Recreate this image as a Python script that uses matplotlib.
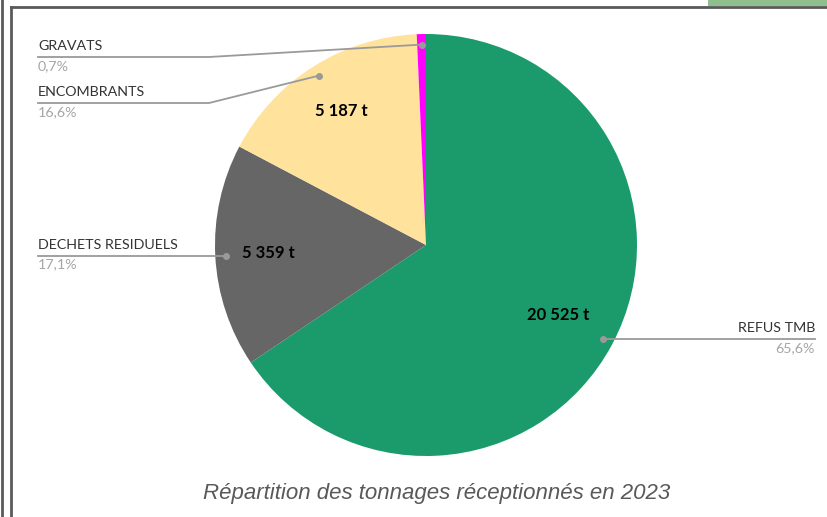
import numpy as np
import matplotlib.pyplot as plt
from matplotlib.patches import Rectangle

# Data
categories = ["REFUS TMB", "DECHETS RESIDUELS", "ENCOMBRANTS", "GRAVATS"]
tonnages = [20525, 5359, 5187, 219]
value_labels = ["20 525 t", "5 359 t", "5 187 t", ""]
pct_labels = ["65,6%", "17,1%", "16,6%", "0,7%"]
colors = ["#1B9B6C", "#666666", "#FFE29B", "#FF00FF"]
title = "Répartition des tonnages réceptionnés en 2023"

W, H = 827, 517
fig = plt.figure(figsize=(W / 100, H / 100), dpi=100)
ax = fig.add_axes([0, 0, 1, 1])

# pie (pixel coordinates, y measured from bottom)
cx, cy, R = 426, H - 245, 211
wedges, _ = ax.pie(tonnages, colors=colors, startangle=90, counterclock=False,
                   center=(cx, cy), radius=R, frame=True,
                   wedgeprops=dict(linewidth=0))
ax.set_xlim(0, W)
ax.set_ylim(0, H)
ax.set_aspect("equal")
ax.axis("off")

label_font = ["Lato", "DejaVu Sans"]
line_col = "#9A9A9A"
# elbow / text layout for each label: (side, elbow_y_px)
layout = {
    "REFUS TMB": ("right", None),
    "DECHETS RESIDUELS": ("left", None),
    "ENCOMBRANTS": ("left", 103),
    "GRAVATS": ("left", 57),
}

for w, cat, val, pct in zip(wedges, categories, value_labels, pct_labels):
    mid = np.deg2rad((w.theta1 + w.theta2) / 2)
    # value label inside
    if val:
        rr = 0.71 * R if cat == "REFUS TMB" else 0.75 * R
        ax.text(cx + rr * np.cos(mid), cy + rr * np.sin(mid), val,
                ha="center", va="center", fontsize=12, fontweight="bold",
                family=label_font, color="black")
    # leader line
    dx, dy = cx + 0.95 * R * np.cos(mid), cy + 0.95 * R * np.sin(mid)
    side, elbow = layout[cat]
    if side == "right":
        ly = dy
        xs, ys = [dx, 815], [dy, dy]
        tx, ha = 815, "right"
    else:
        ly = dy if elbow is None else H - elbow
        ex = dx if elbow is None else 209
        xs, ys = [dx, ex, 38], [dy, ly, ly]
        tx, ha = 38, "left"
    ax.plot(xs, ys, color=line_col, lw=1.3, clip_on=False, zorder=3)
    ax.plot([dx], [dy], "o", color=line_col, ms=4, clip_on=False, zorder=4)
    ax.text(tx, ly + 5, cat, ha=ha, va="bottom", fontsize=10.3,
            family=label_font, color="#333333")
    ax.text(tx, ly - 3, pct, ha=ha, va="top", fontsize=10.3,
            family=label_font, color="#A6A6A6")

# caption
ax.text(437, H - 493, title, ha="center", va="center", fontsize=16,
        style="italic", family=["Liberation Sans", "DejaVu Sans"], color="#595959")

# frame borders of the screenshot
border = "#5A5A5A"
ax.plot([1.5, 1.5], [0, H], color=border, lw=2, clip_on=False)
ax.plot([10.5, 10.5], [0, H - 7], color=border, lw=2, clip_on=False)
ax.plot([10.5, W], [H - 7, H - 7], color=border, lw=2, clip_on=False)
ax.add_patch(Rectangle((708, H - 6), W - 708, 6, color="#8FBF8C", lw=0, clip_on=False))

fig.savefig("out.png", dpi=100)
